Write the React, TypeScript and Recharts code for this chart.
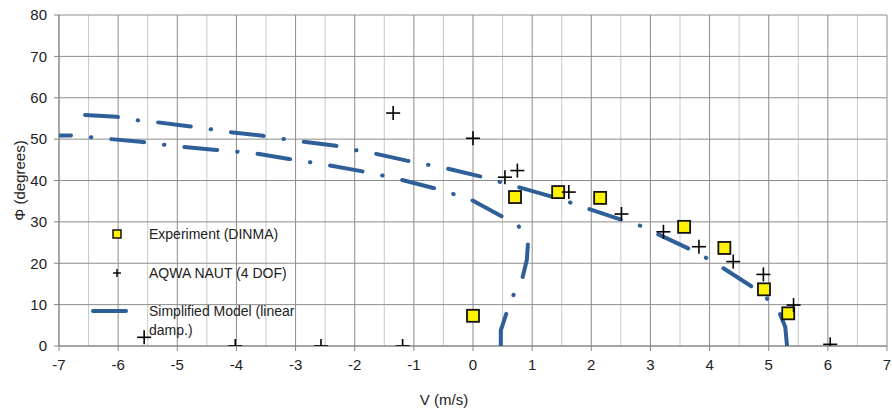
import React from 'react';
import {
  ScatterChart,
  Scatter,
  XAxis,
  YAxis,
  CartesianGrid
} from 'recharts';

// Experiment (DINMA)
const expV = [0, 0.71, 1.44, 2.15, 3.57, 4.25, 4.92, 5.33];
const expPhi = [7.3, 36.0, 37.2, 35.8, 28.8, 23.7, 13.7, 7.9];

// AQWA NAUT (4 DOF)
const aqwaV = [-5.56, -4.02, -2.57, -1.19, -1.35, 0.0, 0.54, 0.75, 1.62, 2.51, 3.22, 3.82, 4.4, 4.91, 5.42, 6.04];
const aqwaPhi = [2.1, 0, 0, 0, 56.3, 50.2, 40.8, 42.4, 37.2, 31.9, 27.6, 24.0, 20.4, 17.3, 9.9, 0.4];

// Simplified Model (linear damp.) - upper branch, traced from the bottom
const modelUpperV = [5.31, 5.28, 5.18, 4.97, 4.7, 4.21, 3.93, 3.64, 3.1, 2.81, 2.49, 1.92, 1.62, 1.33, 0.74, 0.12, -0.47, -0.8, -1.12, -1.69, -2.01, -2.32, -2.93, -3.24, -3.55, -4.17, -4.48, -4.81, -5.41, -5.72, -6.03, -6.65];
const modelUpperPhi = [0, 4.6, 8.1, 11.5, 14.5, 19.0, 21.4, 23.6, 27.2, 29.2, 30.6, 33.3, 34.8, 36.1, 38.5, 41.0, 43.0, 43.9, 44.8, 46.6, 47.4, 48.4, 49.5, 50.1, 50.8, 51.8, 52.5, 53.1, 54.2, 54.6, 55.4, 55.9];

// Simplified Model - lower branch, traced from the bottom
const modelLowerV = [0.47, 0.47, 0.57, 0.69, 0.84, 0.91, 0.93, 0.77, 0.49, -0.05, -0.35, -0.67, -1.25, -1.56, -1.87, -2.48, -2.79, -3.11, -3.71, -4.02, -4.34, -4.96, -5.26, -5.58, -6.5, -6.81, -7.0];
const modelLowerPhi = [0, 3.8, 8.1, 12.5, 16.7, 20.8, 25.0, 29.0, 31.3, 35.5, 36.8, 38.2, 40.3, 41.3, 42.2, 43.8, 44.5, 45.2, 46.6, 47.0, 47.4, 48.2, 48.7, 49.3, 50.5, 50.9, 50.9];

const xTicks = [-7, -6, -5, -4, -3, -2, -1, 0, 1, 2, 3, 4, 5, 6, 7];
const xHalfTicks = [-6.5, -5.5, -4.5, -3.5, -2.5, -1.5, -0.5, 0.5, 1.5, 2.5, 3.5, 4.5, 5.5, 6.5];
const yTicks = [0, 10, 20, 30, 40, 50, 60, 70, 80];

const zip = (xs: number[], ys: number[]) => xs.map((x, i) => ({ x, y: ys[i] }));

const BLUE = '#2F5F98';
const YELLOW = '#FFF200';
const FONT = '"Liberation Sans", Arial, sans-serif';
const DASH = '33 20 0.5 20';

const SquareShape = (props: any) => {
  const { cx, cy } = props;
  if (cx == null || cy == null) return null;
  return <rect x={cx - 6} y={cy - 6} width={12} height={12} fill={YELLOW} stroke="#111" strokeWidth={1.8} />;
};

const CrossShape = (props: any) => {
  const { cx, cy } = props;
  if (cx == null || cy == null) return null;
  return (
    <g stroke="#000" strokeWidth={1.6}>
      <line x1={cx - 7} y1={cy} x2={cx + 7} y2={cy} />
      <line x1={cx} y1={cy - 7} x2={cx} y2={cy + 7} />
    </g>
  );
};

const NoShape = () => <g />;

// legend drawn inside the plot area, like the original
const LegendBox = () => (
  <svg width={220} height={130} style={{ position: 'absolute', left: 83, top: 220, overflow: 'visible' }}>
    <g fontFamily={FONT} fontSize={14} fill="#222">
      <rect x={30} y={10} width={8} height={8} fill={YELLOW} stroke="#111" strokeWidth={1.5} />
      <text x={66} y={14} dominantBaseline="central">Experiment (DINMA)</text>
      <g stroke="#000" strokeWidth={1.4}>
        <line x1={30} y1={53} x2={38} y2={53} />
        <line x1={34} y1={49} x2={34} y2={57} />
      </g>
      <text x={66} y={53} dominantBaseline="central">AQWA NAUT (4 DOF)</text>
      <line x1={10} y1={91} x2={43} y2={91} stroke={BLUE} strokeWidth={4} strokeLinecap="round" />
      <text x={66} y={91} dominantBaseline="central">Simplified Model (linear</text>
      <text x={66} y={110} dominantBaseline="central">damp.)</text>
    </g>
  </svg>
);

export default function App() {
  const tick = { fontSize: 15, fill: '#222', fontFamily: FONT };
  const lineStyle = {
    stroke: BLUE,
    strokeWidth: 4,
    strokeDasharray: DASH,
    strokeLinecap: 'round',
    strokeLinejoin: 'round',
    fill: 'none'
  };
  return (
    <div style={{ position: 'absolute', left: 0, top: 0, width: 892, height: 410, background: '#fff' }}>
      <ScatterChart width={892} height={410} margin={{ top: 15, right: 5, left: 0, bottom: 4 }}>
        <CartesianGrid horizontal={false} verticalValues={xHalfTicks} stroke="#c8c8c8" />
        <CartesianGrid verticalValues={xTicks} horizontalValues={yTicks} stroke="#8c8c8c" />
        <XAxis
          type="number"
          dataKey="x"
          domain={[-7, 7]}
          ticks={xTicks}
          allowDataOverflow
          height={60}
          tick={tick}
          tickSize={5}
          tickMargin={8}
          axisLine={{ stroke: '#868686' }}
          tickLine={{ stroke: '#868686' }}
          label={{ value: 'V (m/s)', position: 'center', dx: -29, dy: 24, fontSize: 15, fill: '#222', fontFamily: FONT }}
        />
        <YAxis
          type="number"
          dataKey="y"
          domain={[0, 80]}
          ticks={yTicks}
          allowDataOverflow
          width={59}
          tick={tick}
          tickSize={5}
          tickMargin={7}
          axisLine={{ stroke: '#868686' }}
          tickLine={{ stroke: '#868686' }}
          label={{ value: 'Φ (degrees)', angle: -90, position: 'center', dx: -10, fontSize: 15, fill: '#222', fontFamily: FONT }}
        />
        <Scatter
          name="Simplified Model (linear damp.)"
          data={zip(modelUpperV, modelUpperPhi)}
          shape={NoShape}
          line={lineStyle}
          lineType="joint"
          isAnimationActive={false}
        />
        <Scatter
          name="Simplified Model lower"
          data={zip(modelLowerV, modelLowerPhi)}
          shape={NoShape}
          line={lineStyle}
          lineType="joint"
          isAnimationActive={false}
        />
        <Scatter
          name="Experiment (DINMA)"
          data={zip(expV, expPhi)}
          shape={SquareShape}
          isAnimationActive={false}
        />
        <Scatter
          name="AQWA NAUT (4 DOF)"
          data={zip(aqwaV, aqwaPhi)}
          shape={CrossShape}
          isAnimationActive={false}
        />
      </ScatterChart>
      <LegendBox />
    </div>
  );
}
